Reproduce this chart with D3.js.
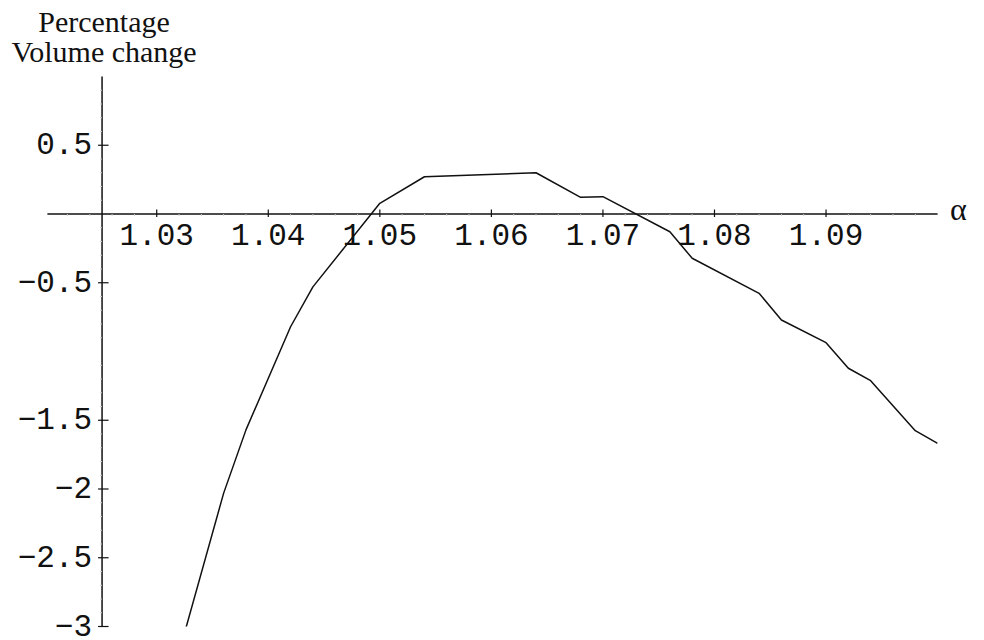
<!DOCTYPE html>
<html>
<head>
<meta charset="utf-8">
<script src="https://cdn.jsdelivr.net/npm/d3@7/dist/d3.min.js"></script>
<style>
  html, body { margin: 0; padding: 0; background: #fff; }
  svg { display: block; }
</style>
</head>
<body>
<svg id="chart" width="984" height="640"></svg>
<script>
// ---- data ----
const alpha = [1.032, 1.036, 1.038, 1.042, 1.044, 1.050, 1.054, 1.064, 1.068, 1.070,
               1.076, 1.078, 1.084, 1.086, 1.090, 1.092, 1.094, 1.098, 1.100];
const volumeChange = [-3.19, -2.03, -1.57, -0.82, -0.53, 0.078, 0.271, 0.300, 0.121, 0.126,
                      -0.129, -0.322, -0.577, -0.771, -0.936, -1.122, -1.212, -1.576, -1.668];
const xTickValues = [1.03, 1.04, 1.05, 1.06, 1.07, 1.08, 1.09];
const xTickLabels = ["1.03", "1.04", "1.05", "1.06", "1.07", "1.08", "1.09"];
const yTickValues = [0.5, -0.5, -1.5, -2, -2.5, -3];
const yTickLabels = ["0.5", "\u22120.5", "\u22121.5", "\u22122", "\u22122.5", "\u22123"];
const yAxisLabel = ["Percentage", "Volume change"];
const xAxisLabel = "\u03b1";

// ---- layout ----
const xDomain = [1.0202, 1.1];
const yDomain = [-3, 1];
const yAxisAt = 1.0251;

const svg = d3.select("#chart");
const x = d3.scaleLinear().domain(xDomain).range([47.4, 937.6]);
const y = d3.scaleLinear().domain(yDomain).range([626.5, 76.5]);

const ink = "#111";
const g = svg.append("g");

svg.append("defs").append("clipPath").attr("id", "plotclip")
  .append("rect")
  .attr("x", x(xDomain[0])).attr("y", y(yDomain[1]))
  .attr("width", x(xDomain[1]) - x(xDomain[0]))
  .attr("height", y(yDomain[0]) - y(yDomain[1]));

const x0 = x(yAxisAt);
const y0 = y(0);

// x axis line
g.append("line")
  .attr("x1", x(xDomain[0])).attr("x2", x(xDomain[1]))
  .attr("y1", y0).attr("y2", y0)
  .attr("stroke", ink).attr("stroke-width", 1.5);

// y axis line
g.append("line")
  .attr("x1", x0).attr("x2", x0)
  .attr("y1", y(yDomain[1])).attr("y2", y(yDomain[0]))
  .attr("stroke", ink).attr("stroke-width", 1.5);

// faint minor ticks
const xMinor = d3.range(1.022, 1.0995, 0.002).filter(v => !xTickValues.some(t => Math.abs(t - v) < 1e-6));
g.selectAll(".xminor").data(xMinor).enter().append("line")
  .attr("x1", d => x(d)).attr("x2", d => x(d))
  .attr("y1", y0).attr("y2", y0 + 2)
  .attr("stroke", "#ccc").attr("stroke-width", 1);

const yMinor = d3.range(-2.9, 0.95, 0.1).filter(v => Math.abs(v) > 1e-6 && !yTickValues.some(t => Math.abs(t - v) < 1e-6) && Math.abs(v + 1) > 1e-6);
g.selectAll(".yminor").data(yMinor).enter().append("line")
  .attr("x1", x0 - 2).attr("x2", x0)
  .attr("y1", d => y(d)).attr("y2", d => y(d))
  .attr("stroke", "#ccc").attr("stroke-width", 1);

// major x ticks
g.selectAll(".xtick").data(xTickValues).enter().append("line")
  .attr("x1", d => x(d)).attr("x2", d => x(d))
  .attr("y1", y0 - 4.5).attr("y2", y0 + 3)
  .attr("stroke", ink).attr("stroke-width", 1.2);

g.selectAll(".xlab").data(xTickValues).enter().append("text")
  .attr("x", d => x(d)).attr("y", y0 + 31)
  .attr("text-anchor", "middle")
  .attr("font-family", "'Liberation Mono', 'Courier New', monospace")
  .attr("font-size", 31).attr("fill", ink)
  .text((d, i) => xTickLabels[i]);

// major y ticks
g.selectAll(".ytick").data(yTickValues).enter().append("line")
  .attr("x1", x0 - 4).attr("x2", x0 + 6.5)
  .attr("y1", d => y(d)).attr("y2", d => y(d))
  .attr("stroke", ink).attr("stroke-width", 1.2);

g.selectAll(".ylab").data(yTickValues).enter().append("text")
  .attr("x", x0 - 10).attr("y", d => y(d) + 9)
  .attr("text-anchor", "end")
  .attr("font-family", "'Liberation Mono', 'Courier New', monospace")
  .attr("font-size", 31).attr("fill", ink)
  .text((d, i) => yTickLabels[i]);

// axis labels
const lab = g.append("text")
  .attr("font-family", "'Liberation Serif', 'Times New Roman', serif")
  .attr("font-size", 30).attr("fill", ink)
  .attr("text-anchor", "middle");
lab.selectAll("tspan").data(yAxisLabel).enter().append("tspan")
  .attr("x", x0 + 2).attr("y", (d, i) => 32 + i * 30)
  .text(d => d);

g.append("text")
  .attr("x", 950).attr("y", y0 + 6)
  .attr("font-family", "'Liberation Serif', 'Times New Roman', serif")
  .attr("font-size", 32).attr("fill", ink)
  .text(xAxisLabel);

// curve
const line = d3.line().x(d => x(d[0])).y(d => y(d[1]));
g.append("path")
  .datum(alpha.map((a, i) => [a, volumeChange[i]]))
  .attr("clip-path", "url(#plotclip)")
  .attr("d", line)
  .attr("fill", "none")
  .attr("stroke", ink)
  .attr("stroke-width", 1.5)
  .attr("stroke-linejoin", "round");
</script>
</body>
</html>
